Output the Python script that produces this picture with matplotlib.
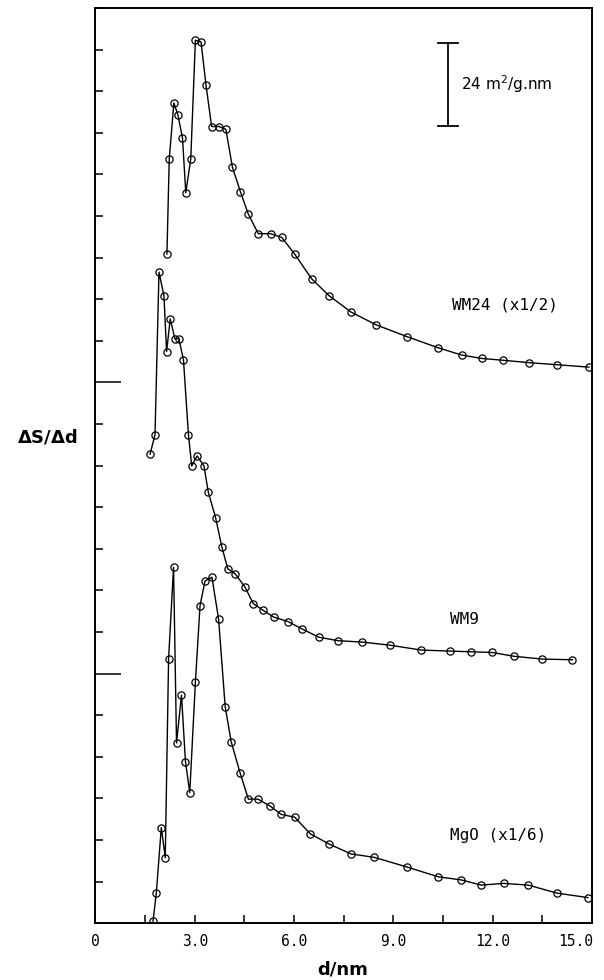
import numpy as np
import matplotlib
matplotlib.use('Agg')
import matplotlib.pyplot as plt

# pore size distributions, dS/dd in m2/g.nm (curves shifted up on a common axis)
d_wm24 = [2.16, 2.23, 2.37, 2.49, 2.63, 2.73, 2.88, 3.02, 3.19, 3.34, 3.51, 3.73, 3.94, 4.14,
          4.38, 4.62, 4.92, 5.29, 5.63, 6.02, 6.53, 7.06, 7.72, 8.48, 9.41, 10.35, 11.06,
          11.67, 12.30, 13.09, 13.94, 14.91]
s_wm24 = [193.0, 220.4, 236.6, 233.2, 226.5, 210.7, 220.4, 254.7, 254.2, 241.8, 229.8, 229.8,
          229.0, 218.0, 211.0, 204.5, 198.9, 198.9, 197.8, 193.0, 185.9, 181.0, 176.3, 172.6,
          169.2, 166.0, 163.9, 162.9, 162.4, 161.7, 161.1, 160.4]

d_wm9 = [1.65, 1.80, 1.92, 2.07, 2.15, 2.26, 2.40, 2.52, 2.66, 2.81, 2.91, 3.07, 3.28, 3.41,
         3.63, 3.82, 4.00, 4.22, 4.51, 4.77, 5.06, 5.39, 5.82, 6.24, 6.75, 7.33, 8.06, 8.90,
         9.84, 10.71, 11.35, 11.98, 12.65, 13.49, 14.41]
s_wm9 = [135.3, 140.9, 187.8, 181.0, 164.9, 174.3, 168.6, 168.6, 162.5, 140.9, 131.9, 134.8,
         131.9, 124.3, 117.0, 108.5, 102.2, 100.8, 97.1, 92.2, 90.3, 88.3, 87.0, 84.9, 82.5,
         81.5, 81.1, 80.2, 78.8, 78.5, 78.3, 78.1, 77.0, 76.2, 76.0]

d_mgo = [1.74, 1.84, 1.99, 2.11, 2.21, 2.36, 2.45, 2.60, 2.72, 2.85, 3.02, 3.16, 3.31, 3.52,
         3.72, 3.92, 4.10, 4.37, 4.62, 4.91, 5.28, 5.61, 6.02, 6.49, 7.05, 7.72, 8.43, 9.42,
         10.36, 11.05, 11.66, 12.33, 13.08, 13.94, 14.88]
s_mgo = [0.6, 8.8, 27.6, 18.9, 76.2, 102.7, 52.0, 65.8, 46.6, 37.7, 69.5, 91.6, 98.7, 99.8,
         87.8, 62.5, 52.4, 43.4, 35.8, 35.8, 33.8, 31.4, 30.6, 25.8, 22.9, 20.0, 19.0, 16.2,
         13.4, 12.5, 11.0, 11.5, 11.0, 8.7, 7.4]

labels = ['WM24 (x1/2)', 'WM9', 'MgO (x1/6)']
label_pos = [(10.78, 178.4), (10.72, 87.5), (10.72, 25.2)]
baselines = [72, 156]
scale_bar = 24
xticks = np.arange(0, 15.01, 1.5)
xticklabels = ['0', '', '3.0', '', '6.0', '', '9.0', '', '12.0', '', '']

fig = plt.figure(figsize=(6.04, 9.80), dpi=100)
ax = fig.add_axes([0.158, 0.0579, 0.822, 0.934])

for d, s in [(d_wm24, s_wm24), (d_wm9, s_wm9), (d_mgo, s_mgo)]:
    ax.plot(d, s, color='black', lw=1.0, marker='o', ms=5.2, mfc='none', mec='black', mew=0.9)

for txt, (x, y) in zip(labels, label_pos):
    ax.text(x, y, txt, family='DejaVu Sans Mono', fontsize=11.5, ha='left', va='center')

# scale bar
ax.plot([10.65, 10.65], [230, 230 + scale_bar], color='black', lw=1.3)
ax.plot([10.35, 10.95], [230, 230], color='black', lw=1.3)
ax.plot([10.35, 10.95], [230 + scale_bar, 230 + scale_bar], color='black', lw=1.3)
ax.text(11.05, 230 + scale_bar / 2, '24 m$^2$/g.nm', fontsize=11, ha='left', va='center')

ax.set_xlim(0, 15)
ax.set_ylim(0, 264)
ax.set_xticks(xticks)
ax.set_xticklabels(xticklabels, family='DejaVu Sans Mono', fontsize=10.5)
# end label kept inside the figure, right aligned on the frame
ax.text(15.05, -0.0115, '15.0', transform=ax.get_xaxis_transform(), ha='right', va='top',
        family='DejaVu Sans Mono', fontsize=10.5)
ax.set_yticks(np.arange(0, 264.1, 12))
ax.set_yticklabels([])
ax.tick_params(axis='x', direction='in', length=6, width=1.1, pad=8, top=False)
ax.tick_params(axis='y', direction='in', length=6, width=1.1, right=False)
for t, v in zip(ax.yaxis.get_major_ticks(), np.arange(0, 264.1, 12)):
    if v in baselines:
        t.tick1line.set_markersize(19)
for sp in ax.spines.values():
    sp.set_linewidth(1.4)

fig.text(47 / 604, 1 - 437 / 980, r'$\mathbf{\Delta}$S/$\mathbf{\Delta}$d', fontsize=13,
         fontweight='bold', ha='center', va='center')
fig.text(343 / 604, 1 - 969 / 980, 'd/nm', fontsize=13, fontweight='bold',
         ha='center', va='center')

fig.savefig('out.png', dpi=100)
